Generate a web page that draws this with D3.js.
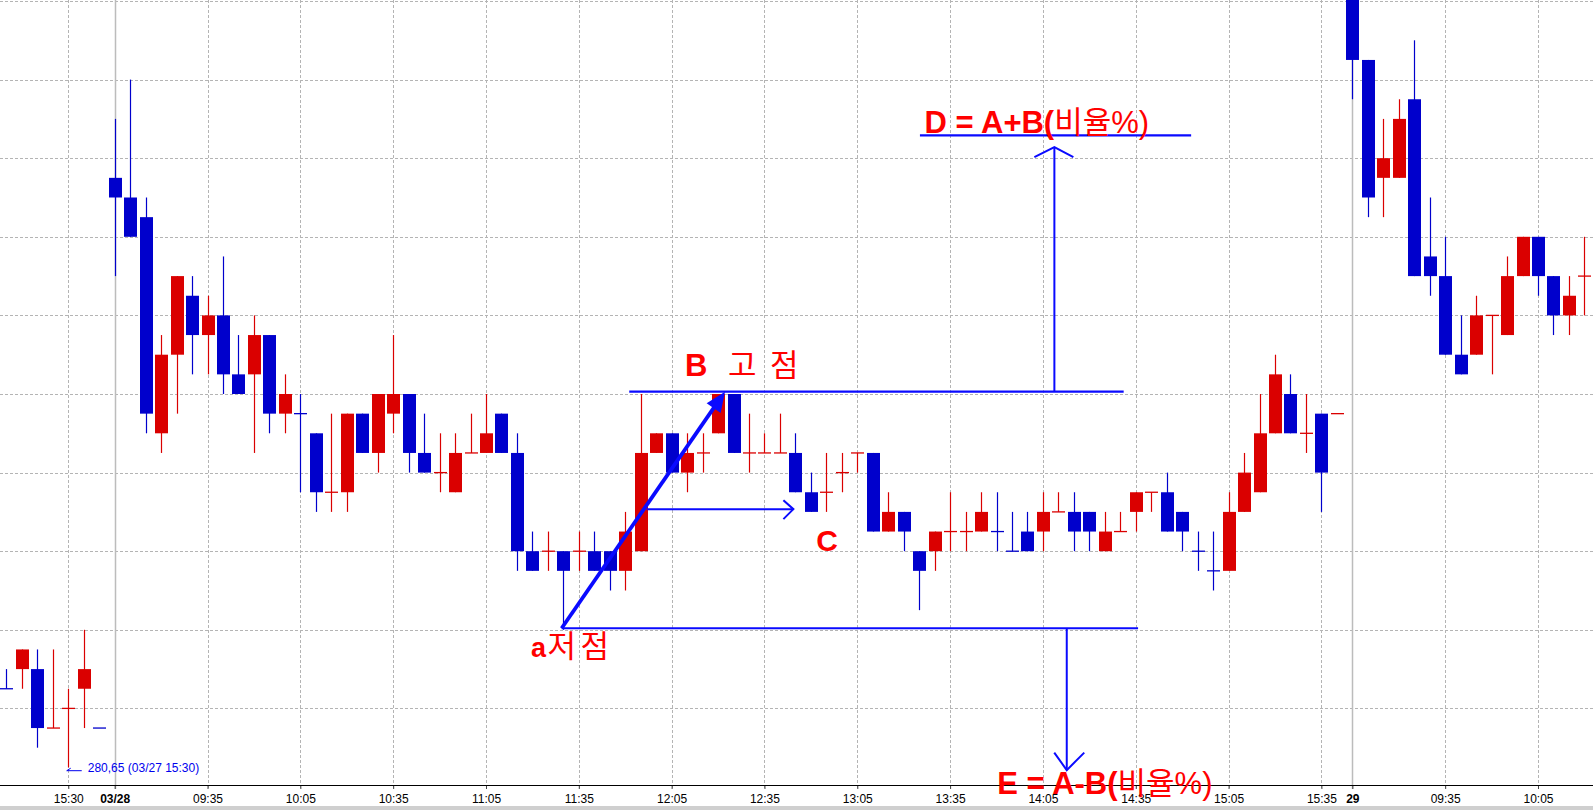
<!DOCTYPE html>
<html>
<head>
<meta charset="utf-8">
<script src="https://cdn.jsdelivr.net/npm/d3@7"></script>
<style>
  html, body { margin: 0; padding: 0; background: #fff; overflow: hidden; }
  svg { display: block; }
</style>
</head>
<body>
<div id="chart"></div>
<script>
// 5-minute candles, three sessions
const times27 = ['15:10','15:15','15:20','15:25','15:30','15:35','15:40'];
const times28 = [
  '09:05','09:10','09:15','09:20','09:25','09:30','09:35','09:40','09:45','09:50','09:55',
  '10:00','10:05','10:10','10:15','10:20','10:25','10:30','10:35','10:40','10:45','10:50','10:55',
  '11:00','11:05','11:10','11:15','11:20','11:25','11:30','11:35','11:40','11:45','11:50','11:55',
  '12:00','12:05','12:10','12:15','12:20','12:25','12:30','12:35','12:40','12:45','12:50','12:55',
  '13:00','13:05','13:10','13:15','13:20','13:25','13:30','13:35','13:40','13:45','13:50','13:55',
  '14:00','14:05','14:10','14:15','14:20','14:25','14:30','14:35','14:40','14:45','14:50','14:55',
  '15:00','15:05','15:10','15:15','15:20','15:25','15:30','15:35','15:40'];
const times29 = ['09:05','09:10','09:15','09:20','09:25','09:30','09:35','09:40','09:45','09:50','09:55',
  '10:00','10:05','10:10','10:15','10:20'];
const times = [...times27.map(t => '03/27 ' + t), ...times28.map(t => '03/28 ' + t), ...times29.map(t => '03/29 ' + t)];

const open = [
  280.85, 280.90, 280.90, 280.75, 280.80, 280.85, 280.75,
  282.15, 282.10, 282.05, 281.50, 281.70, 281.85, 281.75, 281.80, 281.65, 281.65,
  281.75, 281.55, 281.55, 281.50, 281.35, 281.35, 281.55, 281.45, 281.55, 281.60,
  281.45, 281.40, 281.35, 281.45, 281.45, 281.55, 281.45, 281.20, 281.20, 281.20,
  281.20, 281.20, 281.20, 281.15, 281.20, 281.45, 281.50, 281.40, 281.45, 281.50,
  281.60, 281.45, 281.45, 281.45, 281.45, 281.35, 281.35, 281.40, 281.45, 281.45,
  281.25, 281.30, 281.20, 281.20, 281.25, 281.25, 281.25, 281.25, 281.20, 281.25,
  281.25, 281.30, 281.30, 281.30, 281.20, 281.25, 281.30, 281.35, 281.35, 281.30,
  281.20, 281.15, 281.15, 281.30, 281.35, 281.50, 281.60, 281.50, 281.55, 281.55,
  282.70, 282.45, 282.15, 282.15, 282.35, 281.95, 281.90, 281.70, 281.70, 281.80,
  281.75, 281.90, 282.00, 281.90, 281.80, 281.90];
const high = [
  280.90, 280.95, 280.95, 280.95, 280.85, 281.00, 280.75,
  282.30, 282.40, 282.10, 281.75, 281.90, 281.90, 281.85, 281.95, 281.75, 281.80,
  281.75, 281.65, 281.60, 281.50, 281.55, 281.55, 281.55, 281.60, 281.75, 281.60,
  281.55, 281.50, 281.50, 281.55, 281.60, 281.55, 281.50, 281.25, 281.25, 281.20,
  281.25, 281.25, 281.20, 281.30, 281.60, 281.50, 281.50, 281.50, 281.50, 281.60,
  281.60, 281.55, 281.50, 281.55, 281.50, 281.40, 281.45, 281.45, 281.45, 281.45,
  281.35, 281.30, 281.20, 281.25, 281.35, 281.30, 281.35, 281.35, 281.30, 281.30,
  281.35, 281.35, 281.35, 281.30, 281.30, 281.30, 281.35, 281.35, 281.40, 281.30,
  281.25, 281.25, 281.35, 281.45, 281.60, 281.70, 281.65, 281.60, 281.55, 281.55,
  282.75, 282.45, 282.30, 282.35, 282.50, 282.10, 282.00, 281.80, 281.85, 281.80,
  281.95, 282.00, 282.00, 281.90, 281.90, 282.00];
const low = [
  280.85, 280.85, 280.70, 280.75, 280.65, 280.75, 280.75,
  281.90, 282.00, 281.50, 281.45, 281.55, 281.65, 281.65, 281.60, 281.60, 281.45,
  281.50, 281.50, 281.35, 281.30, 281.30, 281.30, 281.45, 281.40, 281.50, 281.40,
  281.40, 281.35, 281.35, 281.45, 281.45, 281.45, 281.15, 281.15, 281.15, 281.00,
  281.15, 281.15, 281.10, 281.10, 281.20, 281.45, 281.40, 281.35, 281.40, 281.50,
  281.45, 281.40, 281.45, 281.45, 281.35, 281.30, 281.30, 281.35, 281.40, 281.25,
  281.25, 281.20, 281.05, 281.15, 281.20, 281.20, 281.25, 281.20, 281.20, 281.20,
  281.20, 281.30, 281.20, 281.20, 281.20, 281.25, 281.25, 281.30, 281.25, 281.20,
  281.15, 281.10, 281.15, 281.30, 281.35, 281.50, 281.50, 281.45, 281.30, 281.55,
  282.35, 282.05, 282.05, 282.15, 281.90, 281.85, 281.70, 281.65, 281.70, 281.65,
  281.75, 281.90, 281.85, 281.75, 281.75, 281.80];
const close = [
  280.85, 280.95, 280.75, 280.75, 280.80, 280.90, 280.75,
  282.10, 282.00, 281.55, 281.70, 281.90, 281.75, 281.80, 281.65, 281.60, 281.75,
  281.55, 281.60, 281.55, 281.35, 281.35, 281.55, 281.45, 281.60, 281.60, 281.45,
  281.40, 281.40, 281.45, 281.45, 281.50, 281.45, 281.20, 281.15, 281.20, 281.15,
  281.20, 281.15, 281.15, 281.25, 281.45, 281.50, 281.40, 281.45, 281.45, 281.60,
  281.45, 281.45, 281.45, 281.45, 281.35, 281.30, 281.35, 281.40, 281.45, 281.25,
  281.30, 281.25, 281.15, 281.25, 281.25, 281.25, 281.30, 281.25, 281.20, 281.20,
  281.30, 281.30, 281.25, 281.25, 281.25, 281.25, 281.35, 281.35, 281.25, 281.25,
  281.20, 281.15, 281.30, 281.40, 281.50, 281.65, 281.50, 281.50, 281.40, 281.55,
  282.45, 282.10, 282.20, 282.30, 281.90, 281.90, 281.70, 281.65, 281.80, 281.80,
  281.90, 282.00, 281.90, 281.80, 281.85, 281.90];
const prevSessionClose = 280.90;

const tickTimes = ['03/27 15:30','03/28 09:05','03/28 09:35','03/28 10:05','03/28 10:35','03/28 11:05',
  '03/28 11:35','03/28 12:05','03/28 12:35','03/28 13:05','03/28 13:35','03/28 14:05','03/28 14:35',
  '03/28 15:05','03/28 15:35','03/29 09:05','03/29 09:35','03/29 10:05'];
const tickLabels = ['15:30','03/28','09:35','10:05','10:35','11:05','11:35','12:05','12:35','13:05',
  '13:35','14:05','14:35','15:05','15:35','29','09:35','10:05'];
const dayStarts = ['03/28 09:05','03/29 09:05'];

const UP = '#da0000', DOWN = '#0000cc', NOTE = '#0a0aff', TXT = '#ff0000';
const W = 1593, H = 810, axisY = 785;
const FONT = "'Liberation Sans', Arial, 'Noto Sans CJK KR', sans-serif";

const candles = times.map((t, i) => ({ t, i, o: open[i], h: high[i], l: low[i], c: close[i] }));
const cents = v => Math.round(v * 100);
candles.forEach((d, i) => {
  const prev = i ? close[i - 1] : prevSessionClose;
  d.up = cents(d.c) > cents(d.o) || (cents(d.c) === cents(d.o) && cents(d.c) >= cents(prev));
});

const x = d3.scalePoint().domain(times).range([6.4, 1584.4]);
const xi = d3.scaleLinear().domain([0, times.length - 1]).range(x.range()); // fractional positions for notes
const y = d3.scaleLinear().domain([280.6, 282.6]).range([787, 1]);

const svg = d3.select('#chart').append('svg')
  .attr('width', W).attr('height', H).attr('viewBox', `0 0 ${W} ${H}`);

// grid
svg.append('g').selectAll('line').data(y.ticks(10).filter(v => v > 280.61)).join('line')
  .attr('x1', 0).attr('x2', W).attr('y1', d => Math.round(y(d)) + 0.5).attr('y2', d => Math.round(y(d)) + 0.5)
  .attr('stroke', '#b4b4b4').attr('stroke-dasharray', '3,2');
svg.append('g').selectAll('line').data(tickTimes).join('line')
  .attr('x1', d => Math.round(x(d)) + 0.5).attr('x2', d => Math.round(x(d)) + 0.5)
  .attr('y1', 0).attr('y2', axisY + 4)
  .attr('stroke', d => dayStarts.includes(d) ? '#bcbcbc' : '#b4b4b4')
  .attr('stroke-width', d => dayStarts.includes(d) ? 1.5 : 1)
  .attr('stroke-dasharray', d => dayStarts.includes(d) ? null : '3,2');

// axis
const ax = svg.append('g').attr('transform', `translate(0,${axisY})`)
  .call(d3.axisBottom(x).tickValues(tickTimes).tickFormat((d, i) => tickLabels[i]).tickSize(4).tickPadding(5.5));
ax.select('.domain').remove();
ax.selectAll('.tick line').attr('stroke', '#444');
ax.selectAll('.tick text').attr('font-family', FONT).attr('font-size', 12).attr('fill', '#000')
  .attr('font-weight', d => dayStarts.includes(d) ? 'bold' : null);
svg.append('line').attr('x1', 0).attr('x2', W).attr('y1', axisY + 0.5).attr('y2', axisY + 0.5)
  .attr('stroke', '#000');
svg.append('rect').attr('x', 0).attr('y', 806).attr('width', W).attr('height', 4).attr('fill', '#cfcfcf');

// candles
const bw = 13;
const cg = svg.append('g').selectAll('g').data(candles).join('g')
  .attr('transform', d => `translate(${Math.round(x(d.t))},0)`);
cg.append('line').attr('x1', 0.5).attr('x2', 0.5)
  .attr('y1', d => y(d.h)).attr('y2', d => y(d.l))
  .attr('stroke', d => d.up ? UP : DOWN).attr('stroke-width', 1.2);
cg.filter(d => cents(d.o) !== cents(d.c)).append('rect')
  .attr('x', -bw / 2 + 0.5).attr('width', bw)
  .attr('y', d => y(Math.max(d.o, d.c))).attr('height', d => Math.abs(y(d.o) - y(d.c)))
  .attr('fill', d => d.up ? UP : DOWN);
cg.filter(d => cents(d.o) === cents(d.c)).append('line')
  .attr('x1', -bw / 2 + 0.5).attr('x2', bw / 2 + 0.5)
  .attr('y1', d => y(d.c)).attr('y2', d => y(d.c))
  .attr('stroke', d => d.up ? UP : DOWN).attr('stroke-width', 1.3);

// low marker of previous session
const lowIdx = 4;
svg.append('path')
  .attr('d', `M${xi(lowIdx - 0.1)},${y(280.6415)}H${xi(lowIdx + 0.87)}M${xi(lowIdx - 0.1)},${y(280.6415)}l4,-2.5`)
  .attr('stroke', '#0000ee').attr('fill', 'none');
svg.append('text').attr('x', xi(5.26)).attr('y', y(280.637))
  .attr('font-family', FONT).attr('font-size', 12).attr('fill', '#0000ee')
  .text(`${d3.format('.2f')(low[lowIdx]).replace('.', ',')} (${times[lowIdx]})`);

// annotations
const notes = svg.append('g').attr('fill', 'none').attr('stroke', NOTE);
const seg = (x1, y1, x2, y2, w) => notes.append('line')
  .attr('x1', x1).attr('y1', y1).attr('x2', x2).attr('y2', y2).attr('stroke-width', w);
const openHead = (tx, ty, ax1, ay1, ax2, ay2) => notes.append('path')
  .attr('d', `M${ax1},${ay1}L${tx},${ty}L${ax2},${ay2}`).attr('stroke-width', 2);

// D line and arrow up from B
seg(xi(59.05), y(282.258), xi(76.58), y(282.258), 2.2);
seg(xi(67.74), y(281.606), xi(67.74), y(282.228), 2);
openHead(xi(67.74), y(282.228), xi(67.74) - 20, y(282.228) + 10, xi(67.74) + 19, y(282.228) + 10);

// B line
seg(xi(40.26), y(281.606), xi(72.22), y(281.606), 2.2);
// a line and arrow down
seg(xi(35.89), y(281.004), xi(73.15), y(281.004), 2.2);
seg(xi(68.54), y(281.004), xi(68.54), y(280.643), 2);
openHead(xi(68.54), y(280.643), xi(68.54) - 12.5, y(280.643) - 17.5, xi(68.54) + 17.5, y(280.643) - 17.5);

// C arrow
seg(xi(41.39), y(281.307), xi(50.87), y(281.307), 2);
openHead(xi(50.87), y(281.307), xi(50.87) - 10, y(281.307) - 9, xi(50.87) - 10, y(281.307) + 10);

// thick arrow a -> B
{
  const x0 = xi(35.89), y0 = y(281.004), x1 = xi(46.45), y1 = y(281.606);
  const len = Math.hypot(x1 - x0, y1 - y0), ux = (x1 - x0) / len, uy = (y1 - y0) / len;
  const hl = 20, hw = 8.5;
  const bx = x1 - ux * hl, by = y1 - uy * hl;
  seg(x0, y0, bx + ux * 2, by + uy * 2, 3.8);
  svg.append('path')
    .attr('d', `M${x1},${y1}L${bx - uy * hw},${by + ux * hw}L${bx + uy * hw},${by - ux * hw}Z`)
    .attr('fill', NOTE);
}

// labels
const label = (xx, yy) => svg.append('text').attr('x', xx).attr('y', yy)
  .attr('font-family', FONT).attr('font-size', 31).attr('fill', TXT);

const dT = label(xi(59.34), y(282.263));
dT.append('tspan').attr('font-weight', 'bold').text('D = A+B(');
dT.append('tspan').text('비율%)');

const bT = label(xi(43.86), y(281.647));
bT.append('tspan').attr('font-weight', 'bold').text('B');
bT.append('tspan').attr('x', xi(46.64)).text('고');
bT.append('tspan').attr('x', xi(49.36)).text('점');

label(xi(52.34), y(281.2)).attr('font-weight', 'bold').attr('font-size', 30).text('C');

const aT = label(xi(33.91), y(280.93));
aT.append('tspan').attr('font-weight', 'bold').attr('font-size', 27).text('a');
aT.append('tspan').attr('x', xi(34.97)).text('저');
aT.append('tspan').attr('x', xi(37.11)).text('점');

const eT = label(xi(64.05), y(280.582));
eT.append('tspan').attr('font-weight', 'bold').text('E = A-B(');
eT.append('tspan').text('비율%)');
</script>
</body>
</html>
